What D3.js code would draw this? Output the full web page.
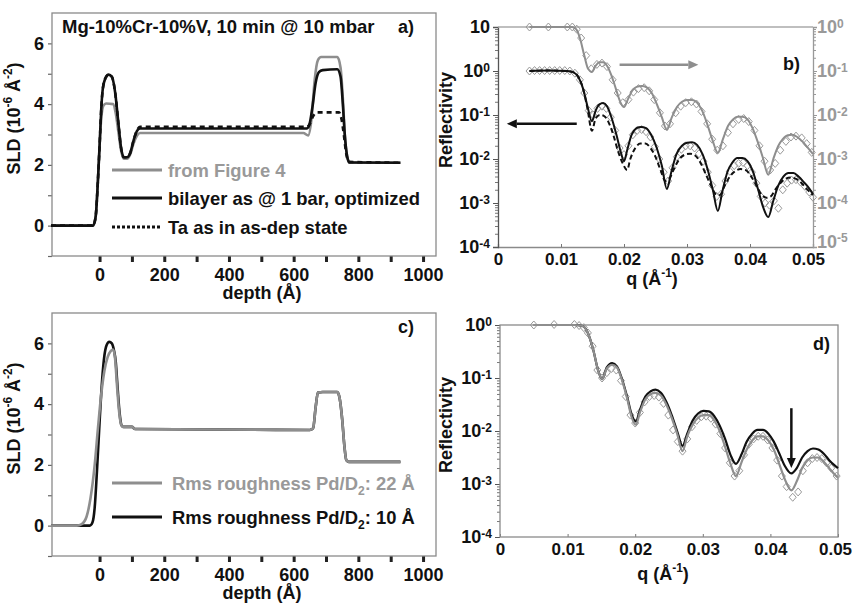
<!DOCTYPE html>
<html>
<head>
<meta charset="utf-8">
<script src="https://cdn.jsdelivr.net/npm/d3@7"></script>
<style>
  body { margin: 0; background: #fff; }
  text { font-family: "Liberation Sans", Arial, sans-serif; font-weight: bold; }
</style>
</head>
<body>
<div id="chart"></div>
<script>
// ---- panel a: SLD depth profiles (depth in A, SLD in 1e-6 A^-2)
var aFigure4 = [[-150,0],[-20,0],[-12,0.3],[-5,1.5],[0,2.6],[5,3.5],[12,3.95],[20,4.02],[42,4.0],[50,3.7],[58,3.1],[66,2.5],[75,2.2],[85,2.2],[95,2.35],[105,2.7],[115,2.95],[125,3.05],[630,3.05],[645,2.97],[655,3.5],[665,4.8],[675,5.45],[685,5.55],[735,5.55],[745,5.2],[752,4.2],[758,3.0],[765,2.3],[772,2.08],[930,2.07]];
var aBilayer = [[-150,0],[-20,0],[-12,0.3],[-5,1.5],[0,2.6],[5,3.8],[10,4.5],[18,4.85],[28,4.97],[38,4.9],[48,4.4],[58,3.4],[66,2.6],[75,2.25],[85,2.25],[95,2.4],[105,2.8],[115,3.1],[125,3.2],[640,3.2],[648,3.3],[658,3.9],[668,4.7],[678,5.05],[690,5.12],[735,5.15],[745,4.9],[752,4.0],[758,3.0],[765,2.3],[772,2.08],[930,2.07]];
var aTa = [[-150,0],[-20,0],[-12,0.3],[-5,1.5],[0,2.6],[5,3.8],[10,4.5],[18,4.85],[28,4.97],[38,4.9],[48,4.4],[58,3.4],[66,2.6],[75,2.25],[85,2.25],[95,2.4],[105,2.8],[115,3.12],[125,3.25],[640,3.25],[650,3.35],[660,3.6],[672,3.73],[740,3.73],[748,3.5],[755,3.0],[762,2.4],[770,2.1],[930,2.07]];

// ---- panel c: roughness 22 A vs 10 A
var cRough22 = [[-150,0],[-70,0],[-55,0.05],[-40,0.3],[-28,0.9],[-15,2.0],[-5,3.2],[5,4.3],[15,5.1],[25,5.55],[35,5.75],[42,5.8],[48,5.5],[54,4.6],[60,3.8],[66,3.35],[72,3.25],[100,3.25],[110,3.18],[650,3.15],[660,3.2],[668,3.9],[675,4.38],[690,4.4],[735,4.4],[742,4.2],[750,3.5],[757,2.6],[763,2.15],[770,2.1],[930,2.1]];
var cRough10 = [[-150,0],[-30,0],[-22,0.1],[-15,0.6],[-8,1.8],[0,3.4],[8,4.8],[15,5.6],[22,5.95],[30,6.05],[38,6.0],[44,5.8],[50,5.4],[56,4.5],[62,3.7],[68,3.3],[74,3.25],[100,3.25],[110,3.18],[650,3.15],[660,3.2],[668,3.9],[675,4.38],[690,4.4],[735,4.4],[742,4.2],[750,3.5],[757,2.6],[763,2.15],[770,2.1],[930,2.1]];

// ---- panel b: reflectivity, [q, log10 R]
var bBlackFit = [[0.005,0],[0.008,0.01],[0.011,0],[0.012,-0.03],[0.0128,-0.15],[0.0135,-0.4],[0.0142,-0.8],[0.0149,-1.14],[0.0155,-0.9],[0.0161,-0.76],[0.0167,-0.73],[0.0173,-0.8],[0.018,-1.05],[0.0188,-1.45],[0.0195,-1.85],[0.02,-2.05],[0.0205,-1.8],[0.0212,-1.45],[0.022,-1.3],[0.0227,-1.27],[0.0235,-1.3],[0.0243,-1.45],[0.0252,-1.75],[0.026,-2.15],[0.0268,-2.68],[0.0275,-2.3],[0.0283,-1.9],[0.0292,-1.7],[0.03,-1.63],[0.0308,-1.62],[0.0316,-1.68],[0.0325,-1.9],[0.0333,-2.25],[0.0341,-2.7],[0.0349,-3.18],[0.0356,-2.75],[0.0364,-2.3],[0.0372,-2.08],[0.038,-1.98],[0.0388,-1.98],[0.0396,-2.05],[0.0405,-2.3],[0.0413,-2.7],[0.0421,-3.1],[0.0429,-3.32],[0.0437,-2.95],[0.0445,-2.6],[0.0453,-2.4],[0.0461,-2.32],[0.0469,-2.32],[0.0477,-2.4],[0.0485,-2.52],[0.0493,-2.65],[0.05,-2.8]];
var bTaFit = [[0.005,0],[0.008,0.01],[0.011,0],[0.012,-0.03],[0.0128,-0.15],[0.0135,-0.4],[0.0142,-0.85],[0.0149,-1.36],[0.0155,-1.08],[0.0162,-1.0],[0.0168,-1.02],[0.0175,-1.15],[0.0183,-1.45],[0.019,-1.8],[0.0198,-2.1],[0.0205,-2.25],[0.021,-2.0],[0.0218,-1.75],[0.0226,-1.65],[0.0234,-1.65],[0.0242,-1.75],[0.025,-1.95],[0.0258,-2.25],[0.0266,-2.5],[0.0272,-2.45],[0.028,-2.2],[0.0288,-2.0],[0.0297,-1.9],[0.0305,-1.88],[0.0313,-1.92],[0.0322,-2.1],[0.033,-2.35],[0.0338,-2.6],[0.0346,-2.8],[0.0352,-2.82],[0.036,-2.6],[0.0368,-2.4],[0.0376,-2.28],[0.0385,-2.23],[0.0393,-2.25],[0.0402,-2.4],[0.041,-2.6],[0.0418,-2.8],[0.0426,-2.88],[0.0433,-2.85],[0.044,-2.7],[0.0448,-2.55],[0.0456,-2.45],[0.0465,-2.42],[0.0473,-2.45],[0.0482,-2.55],[0.049,-2.68],[0.05,-2.82]];
var bBlackData = [[0.005,0],[0.0058,0.01],[0.0066,0.01],[0.0074,0.01],[0.0082,0.01],[0.009,0.01],[0.0098,0.01],[0.0106,0.01],[0.0114,0],[0.0122,-0.05],[0.013,-0.2],[0.0137,-0.5],[0.0144,-0.9],[0.0151,-1.0],[0.0158,-0.85],[0.0165,-0.8],[0.0172,-0.85],[0.0179,-1.05],[0.0186,-1.35],[0.0193,-1.75],[0.02,-1.9],[0.0207,-1.7],[0.0214,-1.45],[0.0221,-1.35],[0.0228,-1.33],[0.0235,-1.38],[0.0242,-1.5],[0.0249,-1.72],[0.0256,-2.0],[0.0263,-2.3],[0.027,-2.5],[0.0277,-2.2],[0.0284,-1.95],[0.0291,-1.78],[0.0298,-1.7],[0.0305,-1.7],[0.0312,-1.75],[0.0319,-1.88],[0.0326,-2.05],[0.0333,-2.3],[0.034,-2.6],[0.0347,-2.85],[0.0354,-2.8],[0.0361,-2.5],[0.0368,-2.28],[0.0375,-2.15],[0.0382,-2.1],[0.0389,-2.08],[0.0396,-2.15],[0.0403,-2.3],[0.041,-2.55],[0.0417,-2.85],[0.0424,-3.0],[0.0431,-3.05],[0.0438,-2.95],[0.0445,-3.12],[0.0452,-2.7],[0.0459,-2.55],[0.0466,-2.48],[0.0473,-2.47],[0.048,-2.52],[0.0487,-2.62],[0.0494,-2.75],[0.05,-2.87]];
// gray set belongs to the right-hand axis
var bGrayFit = [[0.005,0],[0.0118,0],[0.0124,-0.05],[0.013,-0.25],[0.0137,-0.65],[0.0143,-0.95],[0.0149,-1.02],[0.0155,-0.88],[0.0161,-0.8],[0.0167,-0.8],[0.0173,-0.88],[0.018,-1.1],[0.0187,-1.4],[0.0194,-1.7],[0.02,-1.82],[0.0206,-1.65],[0.0213,-1.45],[0.022,-1.36],[0.0228,-1.34],[0.0236,-1.37],[0.0244,-1.5],[0.0252,-1.75],[0.026,-2.05],[0.0268,-2.34],[0.0276,-2.05],[0.0284,-1.82],[0.0292,-1.7],[0.03,-1.66],[0.0308,-1.66],[0.0316,-1.72],[0.0324,-1.9],[0.0332,-2.2],[0.034,-2.55],[0.0349,-2.86],[0.0357,-2.55],[0.0365,-2.25],[0.0373,-2.1],[0.038,-2.04],[0.0388,-2.04],[0.0396,-2.1],[0.0404,-2.3],[0.0412,-2.6],[0.042,-2.95],[0.0429,-3.36],[0.0437,-3.0],[0.0445,-2.7],[0.0452,-2.55],[0.046,-2.46],[0.0467,-2.45],[0.0475,-2.5],[0.0483,-2.6],[0.0491,-2.73],[0.05,-2.89]];
var bGrayData = [[0.005,0],[0.008,0],[0.011,0],[0.0118,0],[0.0125,-0.05],[0.0132,-0.25],[0.014,-0.65],[0.0148,-0.95],[0.0157,-0.85],[0.0165,-0.82],[0.0173,-0.9],[0.0182,-1.2],[0.019,-1.5],[0.0198,-1.72],[0.0207,-1.65],[0.0215,-1.48],[0.0223,-1.4],[0.0232,-1.38],[0.024,-1.45],[0.0248,-1.65],[0.0257,-1.95],[0.0265,-2.25],[0.0273,-2.2],[0.0282,-1.95],[0.029,-1.8],[0.0298,-1.72],[0.0307,-1.7],[0.0315,-1.75],[0.0323,-1.92],[0.0332,-2.2],[0.034,-2.55],[0.0348,-2.8],[0.0357,-2.7],[0.0365,-2.4],[0.0373,-2.2],[0.0382,-2.1],[0.039,-2.08],[0.0398,-2.15],[0.0407,-2.35],[0.0415,-2.7],[0.0423,-3.05],[0.0432,-3.25],[0.044,-3.1],[0.0448,-2.8],[0.0457,-2.6],[0.0465,-2.5],[0.0473,-2.48],[0.0482,-2.52],[0.049,-2.65],[0.0498,-2.85]];

// ---- panel d
var dRough10Fit = [[0.005,0],[0.011,0],[0.0122,-0.02],[0.013,-0.15],[0.0138,-0.47],[0.0145,-0.85],[0.0151,-1.02],[0.0158,-0.8],[0.0166,-0.72],[0.0173,-0.78],[0.018,-1.0],[0.0188,-1.35],[0.0195,-1.7],[0.0201,-1.82],[0.0207,-1.6],[0.0215,-1.35],[0.0223,-1.25],[0.023,-1.22],[0.0238,-1.28],[0.0246,-1.45],[0.0254,-1.7],[0.0262,-2.0],[0.027,-2.28],[0.0277,-2.05],[0.0285,-1.8],[0.0293,-1.67],[0.0301,-1.62],[0.0309,-1.63],[0.0317,-1.72],[0.0325,-1.9],[0.0333,-2.15],[0.0341,-2.45],[0.0349,-2.62],[0.0357,-2.45],[0.0365,-2.2],[0.0373,-2.05],[0.0381,-1.98],[0.0389,-1.98],[0.0397,-2.05],[0.0405,-2.2],[0.0413,-2.42],[0.0421,-2.65],[0.0431,-2.8],[0.0439,-2.7],[0.0447,-2.5],[0.0455,-2.38],[0.0463,-2.33],[0.0471,-2.35],[0.0479,-2.43],[0.0487,-2.55],[0.0495,-2.65],[0.05,-2.7]];
var dRough22Fit = [[0.005,0],[0.011,0],[0.0122,-0.02],[0.013,-0.15],[0.0138,-0.47],[0.0145,-0.85],[0.0151,-1.02],[0.0158,-0.82],[0.0166,-0.75],[0.0173,-0.8],[0.018,-1.02],[0.0188,-1.38],[0.0195,-1.75],[0.0201,-1.88],[0.0207,-1.65],[0.0215,-1.4],[0.0223,-1.3],[0.023,-1.28],[0.0238,-1.33],[0.0246,-1.5],[0.0254,-1.75],[0.0262,-2.05],[0.027,-2.38],[0.0277,-2.1],[0.0285,-1.88],[0.0293,-1.75],[0.0301,-1.7],[0.0309,-1.7],[0.0317,-1.8],[0.0325,-2.0],[0.0333,-2.3],[0.0341,-2.62],[0.0349,-2.85],[0.0357,-2.6],[0.0365,-2.35],[0.0373,-2.18],[0.0381,-2.1],[0.0389,-2.1],[0.0397,-2.18],[0.0405,-2.35],[0.0413,-2.62],[0.0421,-2.9],[0.0431,-3.12],[0.0439,-2.95],[0.0447,-2.7],[0.0455,-2.55],[0.0463,-2.5],[0.0471,-2.5],[0.0479,-2.58],[0.0487,-2.7],[0.0495,-2.82],[0.05,-2.88]];
var dData = [[0.005,0],[0.008,0.01],[0.011,0.01],[0.0117,-0.01],[0.0124,-0.05],[0.013,-0.15],[0.0137,-0.4],[0.0144,-0.85],[0.0151,-1.0],[0.0158,-0.9],[0.0165,-0.82],[0.0172,-0.85],[0.0179,-1.05],[0.0186,-1.35],[0.0193,-1.7],[0.02,-1.85],[0.0207,-1.65],[0.0214,-1.45],[0.0221,-1.35],[0.0228,-1.33],[0.0235,-1.36],[0.0242,-1.48],[0.0249,-1.7],[0.0256,-1.98],[0.0263,-2.2],[0.027,-2.38],[0.0277,-2.15],[0.0284,-1.92],[0.0291,-1.8],[0.0298,-1.73],[0.0305,-1.72],[0.0312,-1.76],[0.0319,-1.87],[0.0326,-2.05],[0.0333,-2.32],[0.034,-2.6],[0.0347,-2.85],[0.0354,-2.75],[0.0361,-2.45],[0.0368,-2.25],[0.0375,-2.15],[0.0382,-2.1],[0.0389,-2.1],[0.0396,-2.17],[0.0403,-2.32],[0.041,-2.55],[0.0417,-2.85],[0.0424,-3.05],[0.0433,-3.25],[0.0441,-3.15],[0.0448,-2.75],[0.0455,-2.6],[0.0462,-2.52],[0.0469,-2.5],[0.0476,-2.52],[0.0483,-2.6],[0.049,-2.7],[0.0498,-2.85]];

var depthTicks = d3.range(0, 1001, 100);
var sldTicks = d3.range(-1, 7, 1);
var qTicks = [0, 0.01, 0.02, 0.03, 0.04, 0.05];
var qFormat = function (d) { return d === 0 ? "0" : String(+d.toFixed(2)); };

var BLACK = "#111", GRAY = "#8e8e8e", FRAME = "#8a8a8a", GRAYTXT = "#999";

var svg = d3.select("#chart").append("svg")
    .attr("width", 853)
    .attr("height", 604);

// text with super/subscripts, parts = [[text, "sup"|"sub"|null], ...]
function richText(g, x, y, parts, size, anchor, color) {
  var t = g.append("text")
      .attr("x", x).attr("y", y)
      .attr("font-size", size + "px")
      .attr("text-anchor", anchor || "start")
      .attr("fill", color || BLACK);
  var shift = 0;
  parts.forEach(function (p) {
    var want = p[1] === "sup" ? -0.42 * size : p[1] === "sub" ? 0.28 * size : 0;
    t.append("tspan")
      .attr("dy", want - shift)
      .attr("font-size", (p[1] ? 0.66 * size : size) + "px")
      .text(p[0]);
    shift = want;
  });
  return t;
}

function logLabel(sel, color) {
  sel.selectAll(".tick text").each(function (d) {
    var e = Math.round(Math.log10(d));
    var t = d3.select(this).text(null).attr("fill", color);
    t.append("tspan").text("10");
    if (e !== 1) t.append("tspan").attr("dy", "-0.45em").attr("font-size", "12px").text(e);
  });
}

function minors(lo, hi) {
  var out = [];
  for (var e = lo; e < hi; e++) for (var k = 2; k < 10; k++) out.push(k * Math.pow(10, e));
  return out;
}

function styleAxis(g, color, width, size) {
  g.selectAll(".tick line").attr("stroke", color).attr("stroke-width", width);
  g.selectAll(".tick text").attr("font-size", (size || 18) + "px").attr("fill", BLACK)
    .attr("font-family", "Liberation Sans, Arial, sans-serif").attr("font-weight", "bold");
}

var lineLin = function (x, y) {
  return d3.line().x(function (d) { return x(d[0]); }).y(function (d) { return y(d[1]); })
    .curve(d3.curveMonotoneX);
};
var lineLog = function (x, y) {
  return d3.line().x(function (d) { return x(d[0]); }).y(function (d) { return y(Math.pow(10, d[1])); })
    .curve(d3.curveMonotoneX);
};

var diamond = "M0,-4L3.5,0L0,4L-3.5,0Z";

// ===== SLD panels (a and c)
function sldPanel(top, bottom, series, label) {
  var x = d3.scaleLinear().domain([-147, 1040]).range([52, 436]);
  var y = d3.scaleLinear().domain([-1, 7]).range([bottom, top]);
  var g = svg.append("g");

  var xAx = g.append("g")
      .attr("transform", "translate(0," + bottom + ")")
      .call(d3.axisBottom(x).tickValues(depthTicks)
        .tickFormat(function (d) { return d % 200 === 0 ? d : ""; })
        .tickSize(6).tickPadding(6));
  xAx.select(".domain").remove();
  styleAxis(xAx, "#222", 3);

  var yAx = g.append("g")
      .attr("transform", "translate(52,0)")
      .call(d3.axisLeft(y).tickValues(sldTicks)
        .tickFormat(function (d) { return d >= 0 && d % 2 === 0 ? d : ""; })
        .tickSize(4).tickPadding(4));
  yAx.select(".domain").remove();
  styleAxis(yAx, "#666", 1.2);

  g.append("rect")
    .attr("x", 52).attr("y", top)
    .attr("width", 384).attr("height", bottom - top)
    .attr("fill", "none").attr("stroke", FRAME).attr("stroke-width", 1.3);

  series.forEach(function (s) {
    g.append("path")
      .datum(s.data)
      .attr("d", lineLin(x, y))
      .attr("fill", "none")
      .attr("stroke", s.color)
      .attr("stroke-width", 2.6)
      .attr("stroke-dasharray", s.dash || null);
  });

  richText(g, 20, (top + bottom) / 2 - 16, [["SLD (10", null], ["-6", "sup"], [" Å", null], ["-2", "sup"], [")", null]], 18, "middle")
    .attr("transform", "rotate(-90,20," + ((top + bottom) / 2 - 16) + ")");
  g.append("text").attr("x", 262).attr("y", bottom + 43).attr("text-anchor", "middle")
    .attr("font-size", "18px").attr("fill", BLACK).text("depth (Å)");
  g.append("text").attr("x", 398).attr("y", top + 20).attr("font-size", "18px").attr("fill", BLACK).text(label);
  return g;
}

var ga = sldPanel(13, 256, [
  {data: aFigure4, color: GRAY},
  {data: aBilayer, color: BLACK},
  {data: aTa, color: BLACK, dash: "5,4"}
], "a)");
ga.append("text").attr("x", 62).attr("y", 33).attr("font-size", "18.5px").attr("fill", BLACK)
  .text("Mg-10%Cr-10%V, 10 min @ 10 mbar");

var legA = [
  {label: "from Figure 4", color: GRAY, txt: GRAYTXT, dash: null, y: 170},
  {label: "bilayer as @ 1 bar, optimized", color: BLACK, txt: BLACK, dash: null, y: 198},
  {label: "Ta as in as-dep state", color: BLACK, txt: BLACK, dash: "3,2", y: 227}
];
legA.forEach(function (l) {
  ga.append("line").attr("x1", 112).attr("x2", 162).attr("y1", l.y).attr("y2", l.y)
    .attr("stroke", l.color).attr("stroke-width", 3).attr("stroke-dasharray", l.dash);
  ga.append("text").attr("x", 168).attr("y", l.y + 6.5).attr("font-size", "18.4px")
    .attr("fill", l.txt).text(l.label);
});

var gc = sldPanel(313, 556, [
  {data: cRough10, color: BLACK},
  {data: cRough22, color: GRAY}
], "c)");
[
  {parts: [["Rms roughness Pd/D", null], ["2", "sub"], [": 22 Å", null]], color: GRAY, txt: GRAYTXT, y: 483},
  {parts: [["Rms roughness Pd/D", null], ["2", "sub"], [": 10 Å", null]], color: BLACK, txt: BLACK, y: 517}
].forEach(function (l) {
  gc.append("line").attr("x1", 112).attr("x2", 162).attr("y1", l.y).attr("y2", l.y)
    .attr("stroke", l.color).attr("stroke-width", 3);
  richText(gc, 172, l.y + 6.5, l.parts, 18.4, "start", l.txt);
});

// ===== panel b
var xb = d3.scaleLinear().domain([0, 0.05]).range([498, 813]);
var yb = d3.scaleLog().domain([1e-4, 10]).range([247, 27]);
var ybR = d3.scaleLog().domain([1e-5, 1]).range([247, 27]);
var gb = svg.append("g");

var bx = gb.append("g").attr("transform", "translate(0,247)")
    .call(d3.axisBottom(xb).tickValues(qTicks).tickFormat(qFormat).tickSize(-3).tickPadding(6));
bx.select(".domain").attr("stroke", FRAME).attr("stroke-width", 1.3);
styleAxis(bx, "#777", 1, 17);
bx.selectAll(".tick").filter(function (d) { return d === 0.05; })
  .select("text").attr("dx", "-5");

var bMin = gb.append("g").attr("transform", "translate(498,0)")
    .call(d3.axisLeft(yb).tickValues(minors(-4, 1)).tickFormat("").tickSize(3));
bMin.select(".domain").remove();
styleAxis(bMin, "#777", 1);
var by = gb.append("g").attr("transform", "translate(498,0)")
    .call(d3.axisLeft(yb).tickValues([1e-4, 1e-3, 1e-2, 1e-1, 1, 10]).tickSize(5).tickPadding(3));
by.select(".domain").attr("stroke", "#555").attr("stroke-width", 1.3);
styleAxis(by, "#555", 1);
logLabel(by, BLACK);

var bRMin = gb.append("g").attr("transform", "translate(813,0)")
    .call(d3.axisRight(ybR).tickValues(minors(-5, 0)).tickFormat("").tickSize(3));
bRMin.select(".domain").remove();
styleAxis(bRMin, "#999", 1);
var byR = gb.append("g").attr("transform", "translate(813,0)")
    .call(d3.axisRight(ybR).tickValues([1e-5, 1e-4, 1e-3, 1e-2, 1e-1, 1]).tickSize(4).tickPadding(0));
byR.select(".domain").attr("stroke", "#999").attr("stroke-width", 1.3);
styleAxis(byR, "#999", 1);
logLabel(byR, GRAYTXT);
byR.selectAll(".tick").filter(function (d) { return d === 1e-5; })
  .select("text").attr("dy", "0.02em");

gb.append("line").attr("x1", 498).attr("x2", 813).attr("y1", 27).attr("y2", 27)
  .attr("stroke", "#aaa").attr("stroke-width", 1.3);

gb.selectAll(".dg").data(bGrayData).enter().append("path")
  .attr("d", diamond)
  .attr("transform", function (d) { return "translate(" + xb(d[0]) + "," + ybR(Math.pow(10, d[1])) + ")"; })
  .attr("fill", "none").attr("stroke", "#999").attr("stroke-width", 1);
gb.append("path").datum(bGrayFit).attr("d", lineLog(xb, ybR))
  .attr("fill", "none").attr("stroke", GRAY).attr("stroke-width", 2);

gb.selectAll(".db").data(bBlackData).enter().append("path")
  .attr("d", diamond)
  .attr("transform", function (d) { return "translate(" + xb(d[0]) + "," + yb(Math.pow(10, d[1])) + ")"; })
  .attr("fill", "none").attr("stroke", "#999").attr("stroke-width", 1);
gb.append("path").datum(bTaFit).attr("d", lineLog(xb, yb))
  .attr("fill", "none").attr("stroke", BLACK).attr("stroke-width", 2).attr("stroke-dasharray", "5,3");
gb.append("path").datum(bBlackFit).attr("d", lineLog(xb, yb))
  .attr("fill", "none").attr("stroke", BLACK).attr("stroke-width", 2);

// arrows
function arrow(g, x1, y1, x2, y2, color) {
  var a = Math.atan2(y2 - y1, x2 - x1), L = 10, W = 4.5;
  g.append("line").attr("x1", x1).attr("y1", y1)
    .attr("x2", x2 - Math.cos(a) * L).attr("y2", y2 - Math.sin(a) * L)
    .attr("stroke", color).attr("stroke-width", 2.5);
  g.append("path").attr("fill", color)
    .attr("d", "M" + x2 + "," + y2 +
      "L" + (x2 - Math.cos(a) * L - Math.sin(a) * W) + "," + (y2 - Math.sin(a) * L + Math.cos(a) * W) +
      "L" + (x2 - Math.cos(a) * L + Math.sin(a) * W) + "," + (y2 - Math.sin(a) * L - Math.cos(a) * W) + "Z");
}
arrow(gb, xb(0.0193), yb(Math.pow(10, 0.14)), xb(0.0318), yb(Math.pow(10, 0.14)), GRAY);
arrow(gb, xb(0.0125), yb(Math.pow(10, -1.2)), xb(0.0014), yb(Math.pow(10, -1.2)), BLACK);

gb.append("text").attr("x", 452).attr("y", 120).attr("text-anchor", "middle")
  .attr("font-size", "18px").attr("fill", BLACK)
  .attr("transform", "rotate(-90,452,120)").text("Reflectivity");
richText(gb, 652, 285, [["q (Å", null], ["-1", "sup"], [")", null]], 18, "middle");
gb.append("text").attr("x", 783).attr("y", 70).attr("font-size", "18px").attr("fill", BLACK).text("b)");

// ===== panel d
var xd = d3.scaleLinear().domain([0, 0.05]).range([500, 838]);
var yd = d3.scaleLog().domain([1e-4, 1]).range([537, 325]);
var gd = svg.append("g");

var dx = gd.append("g").attr("transform", "translate(0,537)")
    .call(d3.axisBottom(xd).tickValues(qTicks).tickFormat(qFormat).tickSize(-3).tickPadding(6));
dx.select(".domain").remove();
styleAxis(dx, "#777", 1, 17);
dx.selectAll(".tick").filter(function (d) { return d === 0.05; })
  .select("text").attr("dx", "-3");
var dMin = gd.append("g").attr("transform", "translate(500,0)")
    .call(d3.axisLeft(yd).tickValues(minors(-4, 0)).tickFormat("").tickSize(3));
dMin.select(".domain").remove();
styleAxis(dMin, "#777", 1);
var dy = gd.append("g").attr("transform", "translate(500,0)")
    .call(d3.axisLeft(yd).tickValues([1e-4, 1e-3, 1e-2, 1e-1, 1]).tickSize(5).tickPadding(3));
dy.select(".domain").remove();
styleAxis(dy, "#555", 1);
logLabel(dy, BLACK);

gd.append("rect").attr("x", 500).attr("y", 325).attr("width", 338).attr("height", 212)
  .attr("fill", "none").attr("stroke", FRAME).attr("stroke-width", 1.3);

gd.selectAll(".dd").data(dData).enter().append("path")
  .attr("d", diamond)
  .attr("transform", function (d) { return "translate(" + xd(d[0]) + "," + yd(Math.pow(10, d[1])) + ")"; })
  .attr("fill", "none").attr("stroke", "#999").attr("stroke-width", 1);
gd.append("path").datum(dRough10Fit).attr("d", lineLog(xd, yd))
  .attr("fill", "none").attr("stroke", BLACK).attr("stroke-width", 2.2);
gd.append("path").datum(dRough22Fit).attr("d", lineLog(xd, yd))
  .attr("fill", "none").attr("stroke", GRAY).attr("stroke-width", 2.2);

arrow(gd, xd(0.0431), yd(Math.pow(10, -1.57)), xd(0.0431), yd(Math.pow(10, -2.7)), BLACK);

gd.append("text").attr("x", 452).attr("y", 425).attr("text-anchor", "middle")
  .attr("font-size", "18px").attr("fill", BLACK)
  .attr("transform", "rotate(-90,452,425)").text("Reflectivity");
richText(gd, 663, 580, [["q (Å", null], ["-1", "sup"], [")", null]], 18, "middle");
gd.append("text").attr("x", 813).attr("y", 350).attr("font-size", "18px").attr("fill", BLACK).text("d)");
</script>
</body>
</html>
